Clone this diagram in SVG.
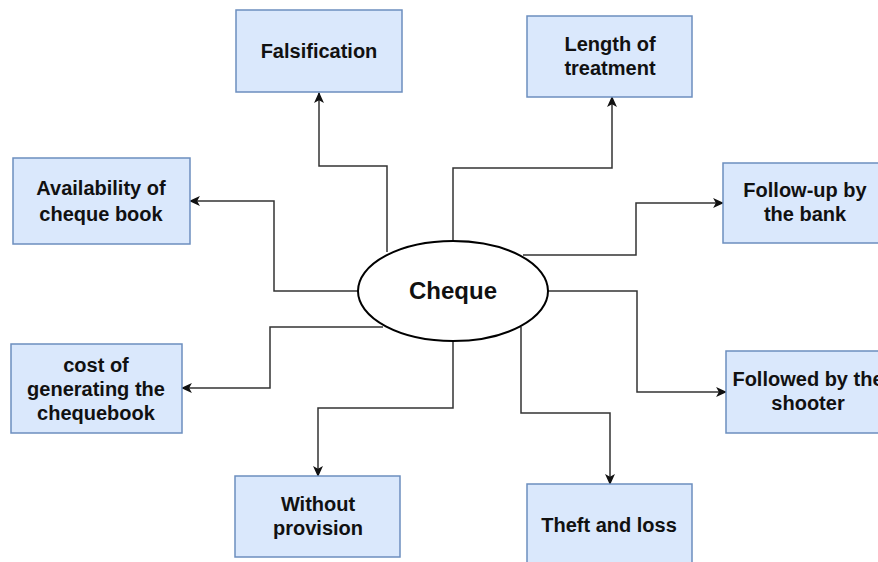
<svg xmlns="http://www.w3.org/2000/svg" width="878" height="562" viewBox="0 0 878 562">
<defs>
<marker id="arr" viewBox="0 0 10 10" refX="9" refY="5" markerWidth="11" markerHeight="11" markerUnits="userSpaceOnUse" orient="auto">
<path d="M0,0.5 L10,5 L0,9.5 L2.5,5 Z" fill="#111"/>
</marker>
</defs>
<style>
.box{fill:#dae8fc;stroke:#6c8ebf;stroke-width:1.5}
.t{font-family:"Liberation Sans",Arial,sans-serif;font-weight:bold;font-size:20px;fill:#111;text-anchor:middle}
.c{fill:none;stroke:#333;stroke-width:1.5;marker-end:url(#arr)}
</style>
<rect width="878" height="562" fill="#fff"/>
<g id="connectors">
<path class="c" d="M387,252 V166 H319 V93"/>
<path class="c" d="M453,240 V168 H612 V97"/>
<path class="c" d="M358,291 H274 V201 H190"/>
<path class="c" d="M383,327 H270 V388 H182"/>
<path class="c" d="M523,255 H636 V203 H723"/>
<path class="c" d="M548,291 H637 V392 H726"/>
<path class="c" d="M453,341 V408 H318 V476"/>
<path class="c" d="M521,327 V413 H610 V484"/>
</g>
<g id="cheque">
<ellipse cx="453" cy="291" rx="95" ry="50" fill="#fff" stroke="#000" stroke-width="2"/>
<text class="t" x="453" y="299" style="font-size:24px">Cheque</text>
</g>
<g id="falsification">
<rect class="box" x="236" y="10" width="166" height="82"/>
<text class="t" x="319" y="58">Falsification</text>
</g>
<g id="length">
<rect class="box" x="527" y="16" width="165" height="81"/>
<text class="t" x="610" y="51">Length of</text>
<text class="t" x="610" y="75">treatment</text>
</g>
<g id="availability">
<rect class="box" x="13" y="158" width="177" height="86"/>
<text class="t" x="101" y="195">Availability of</text>
<text class="t" x="101" y="221">cheque book</text>
</g>
<g id="cost">
<rect class="box" x="11" y="344" width="171" height="89"/>
<text class="t" x="96" y="372">cost of</text>
<text class="t" x="96" y="396">generating the</text>
<text class="t" x="96" y="420">chequebook</text>
</g>
<g id="followup">
<rect class="box" x="723" y="163" width="164" height="80"/>
<text class="t" x="805" y="197">Follow-up by</text>
<text class="t" x="805" y="221">the bank</text>
</g>
<g id="followed">
<rect class="box" x="726" y="351" width="164" height="82"/>
<text class="t" x="808" y="386">Followed by the</text>
<text class="t" x="808" y="410">shooter</text>
</g>
<g id="without">
<rect class="box" x="235" y="476" width="165" height="81"/>
<text class="t" x="318" y="511">Without</text>
<text class="t" x="318" y="535">provision</text>
</g>
<g id="theft">
<rect class="box" x="527" y="484" width="165" height="84"/>
<text class="t" x="609" y="532">Theft and loss</text>
</g>
</svg>
